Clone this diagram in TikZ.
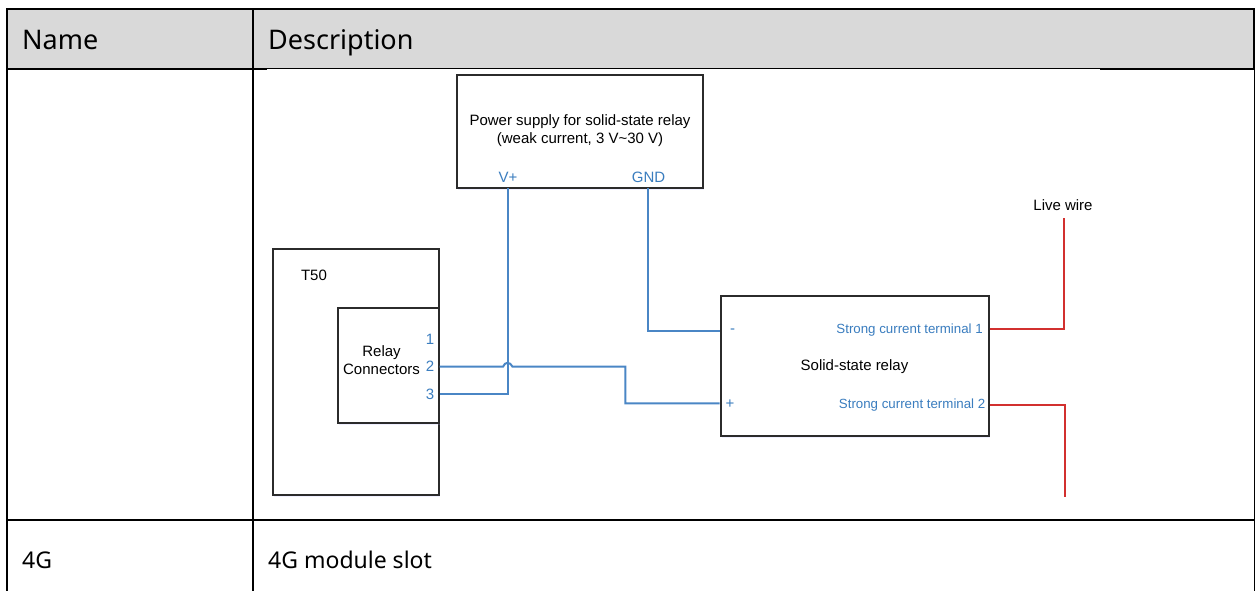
\documentclass[tikz,border=0pt]{standalone}
\usepackage{fontspec}
\setmainfont{Noto Sans}
\newfontfamily\diagfont{Liberation Sans}
\usetikzlibrary{shadows}
\definecolor{headgrey}{HTML}{D9D9D9}
\definecolor{wireblue}{HTML}{4A86C5}
\definecolor{labelblue}{HTML}{3A7DBF}
\definecolor{wirered}{HTML}{D2302F}
\definecolor{boxline}{HTML}{2B2B2B}
\tikzset{
    cell/.style={anchor=base west, inner sep=0pt, font=\fontsize{23}{27}\selectfont},
    headcell/.style={cell, font=\fontsize{27}{31}\selectfont},
    block/.style={draw=boxline, line width=2pt, fill=white, inner sep=0pt,
        drop shadow={shadow xshift=1pt, shadow yshift=-2pt, fill=blue!30, opacity=.2}},
    txt/.style={inner sep=0pt, align=center, font=\diagfont\fontsize{15}{18}\selectfont},
    pin/.style={inner sep=0pt, text=labelblue, font=\diagfont\fontsize{15}{18}\selectfont},
    termtxt/.style={inner sep=0pt, anchor=base east, text=labelblue, font=\diagfont\fontsize{13.3}{16}\selectfont},
    bluewire/.style={draw=wireblue, line width=2pt},
    redwire/.style={draw=wirered, line width=2pt},
}
\begin{document}
\begin{tikzpicture}[x=1pt, y=-1pt]
    \useasboundingbox (0, 0) rectangle (1255, 591);
    \coordinate (TL) at (7, 9);
    \coordinate (TR) at (1254, 69);
    \fill[headgrey] (TL) rectangle (TR);

    % table rules
    \draw[line width=1.6pt] (7, 591) -- (7, 9) -- (1254, 9) -- (1254, 69);
    \draw[line width=1.6pt] (253, 9) -- (253, 591);
    \draw[line width=1.6pt] (7, 69) -- (267, 69);
    \draw[line width=.7pt] (267, 68.7) -- (1100, 68.7);
    \draw[line width=1.6pt] (1100, 69) -- (1254, 69);
    \draw[line width=.7pt] (1254, 69) -- (1254, 591);
    \draw[line width=1.6pt] (7, 520) -- (1254, 520);

    \node[headcell] (name) at (22, 50) {Name};
    \node[headcell] (descr) at (268, 50) {Description};
    \node[cell] (row) at (22, 568) {4G};
    \node[cell] (rowdescr) at (268, 568) {4G module slot};

    % boxes
    \node[block, minimum width=246pt, minimum height=112.7pt] (supply) at (579.7, 131.3) {};
    \node[block, minimum width=165.4pt, minimum height=246pt] (t50) at (356, 372.3) {};
    \node[block, minimum width=100.4pt, minimum height=115.3pt] (conn) at (388.5, 365.7) {};
    \node[block, minimum width=268pt, minimum height=140pt] (ssr) at (854.7, 365.7) {};

    \node[txt] (supplytxt) at (580, 131) {Power supply for solid-state relay\\(weak current, 3 V\textasciitilde 30 V)};
    \node[pin] (vplus) at (508, 177) {V+};
    \node[pin] (gnd) at (648.5, 177) {GND};
    \node[txt] (t50txt) at (314, 275) {T50};
    \node[txt] (conntxt) at (381.5, 360) {Relay\\Connectors};
    \node[pin] (one) at (430, 339.5) {1};
    \node[pin] (two) at (430, 366) {2};
    \node[pin] (three) at (430, 394) {3};
    \node[txt] (ssrtxt) at (854.5, 367) {Solid-state relay};
    \node[pin] (minus) at (732.5, 331) {-};
    \node[pin] (plus) at (730, 404) {+};
    \node[termtxt] (termone) at (983, 333.3) {Strong current terminal 1};
    \node[termtxt] (termtwo) at (985.5, 408.3) {Strong current terminal 2};
    \node[txt] (live) at (1063, 205) {Live wire};

    \coordinate (C2) at (conn.east |- 0, 366.7);
    \coordinate (C3) at (conn.east |- 0, 394.3);
    \coordinate (S1) at (ssr.west |- 0, 331);
    \coordinate (S2) at (ssr.west |- 0, 403.3);
    \coordinate (R1) at (ssr.east |- 0, 328.7);
    \coordinate (R2) at (ssr.east |- 0, 404.7);
    \coordinate (V) at (507.5, 187.7);
    \coordinate (G) at (648.3, 187.7);
    \coordinate (L1) at (1064, 218.3);
    \coordinate (L2) at (1065, 496.7);

    % wires
    \draw[bluewire] (C3) -- (V |- C3) -- (V);
    \draw[bluewire] (G) |- (S1);
    \draw[bluewire] (C2) -- (503, 366.7) .. controls (505, 361.5) and (510, 361.5) .. (512.5, 366.7)
        -- (625.3, 366.7) -- (625.3, 403.3) -- (S2);
    \draw[redwire] (R1) -| (L1);
    \draw[redwire] (R2) -| (L2);
\end{tikzpicture}
\end{document}
